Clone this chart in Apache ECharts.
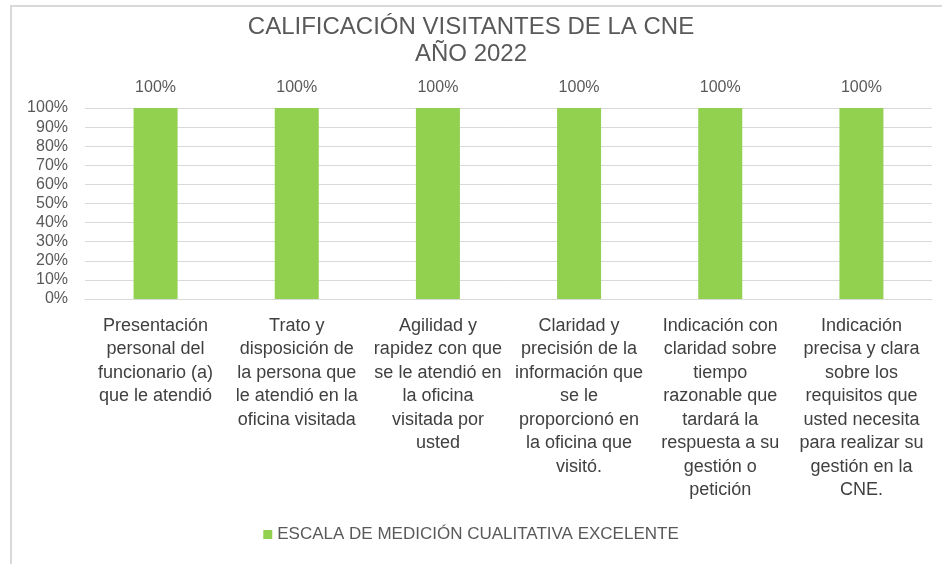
<!DOCTYPE html>
<html>
<head>
<meta charset="utf-8">
<script src="https://cdn.jsdelivr.net/npm/echarts@6/dist/echarts.min.js"></script>
<style>
  html, body { margin: 0; padding: 0; background: #fff; }
  #wrap { position: relative; width: 942px; height: 564px; }
  #frame { position: absolute; left: 10px; top: 5px; right: 0; bottom: 0;
           border-top: 2px solid #d9d9d9; border-left: 2px solid #d9d9d9; }
  #chart { position: absolute; left: 0; top: 0; width: 942px; height: 564px; }
</style>
</head>
<body>
<div id="wrap">
  <div id="frame"></div>
  <div id="chart"></div>
</div>
<script>
  // categorías (con saltos de línea como en el original)
  const categories = [
    'Presentación\npersonal del\nfuncionario (a)\nque le atendió',
    'Trato y\ndisposición de\nla persona que\nle atendió en la\noficina visitada',
    'Agilidad y\nrapidez con que\nse le atendió en\nla oficina\nvisitada por\nusted',
    'Claridad y\nprecisión de la\ninformación que\nse le\nproporcionó en\nla oficina que\nvisitó.',
    'Indicación con\nclaridad sobre\ntiempo\nrazonable que\ntardará la\nrespuesta a su\ngestión o\npetición',
    'Indicación\nprecisa y clara\nsobre los\nrequisitos que\nusted necesita\npara realizar su\ngestión en la\nCNE.'
  ];
  const excelente = [1, 1, 1, 1, 1, 1];
  const seriesName = 'ESCALA DE MEDICIÓN CUALITATIVA EXCELENTE';

  const font = '"Liberation Sans", Arial, sans-serif';
  const chart = echarts.init(document.getElementById('chart'));

  chart.setOption({
    animation: false,
    title: {
      text: 'CALIFICACIÓN VISITANTES DE LA CNE\nAÑO 2022',
      left: 'center',
      top: 9,
      textStyle: {
        fontFamily: font,
        fontWeight: 'normal',
        fontSize: 24,
        lineHeight: 27,
        color: '#595959'
      }
    },
    legend: {
      data: [seriesName],
      left: 'center',
      top: 521,
      icon: 'rect',
      itemWidth: 9,
      itemHeight: 9,
      itemGap: 5,
      textStyle: { fontFamily: font, fontSize: 17, color: '#595959' }
    },
    grid: { left: 85, right: 10, top: 108, bottom: 265 },
    xAxis: {
      type: 'category',
      data: categories,
      axisLine: { show: true, lineStyle: { color: '#d9d9d9', width: 1 } },
      axisTick: { show: false },
      axisLabel: {
        interval: 0,
        margin: 15,
        fontFamily: font,
        fontSize: 18,
        lineHeight: 23.5,
        color: '#404040',
        align: 'center'
      }
    },
    yAxis: {
      type: 'value',
      min: 0,
      max: 1,
      interval: 0.1,
      axisLine: { show: false },
      axisTick: { show: false },
      splitLine: { lineStyle: { color: '#d9d9d9', width: 1 } },
      axisLabel: {
        margin: 17,
        fontFamily: font,
        fontSize: 16,
        color: '#595959',
        formatter: function (v) { return Math.round(v * 100) + '%'; }
      }
    },
    series: [
      {
        name: seriesName,
        type: 'bar',
        data: excelente,
        barWidth: 44,
        itemStyle: { color: '#92d050' },
        label: {
          show: true,
          position: 'top',
          distance: 12,
          fontFamily: font,
          fontSize: 16,
          color: '#595959',
          formatter: function (p) { return Math.round(p.value * 100) + '%'; }
        }
      }
    ]
  });
</script>
</body>
</html>
